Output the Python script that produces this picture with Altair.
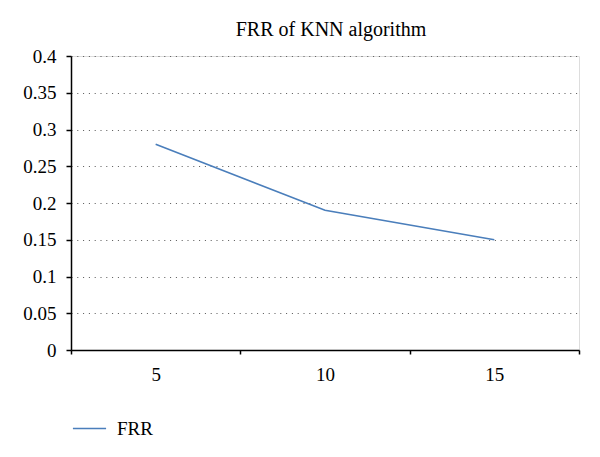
import altair as alt
import pandas as pd

k_values = ["5", "10", "15"]
frr_values = [0.28, 0.19, 0.15]
series_name = "FRR"
y_ticks = [0, 0.05, 0.1, 0.15, 0.2, 0.25, 0.3, 0.35, 0.4]

df = pd.DataFrame({"k": k_values, "frr": frr_values, "series": [series_name] * len(k_values)})

FONT = "Liberation Serif"

line = alt.Chart(df).mark_line(strokeWidth=1.6).encode(
    x=alt.X(
        "k:N",
        sort=k_values,
        title=None,
        scale=alt.Scale(paddingInner=0, paddingOuter=0),
        axis=alt.Axis(
            labelAngle=0,
            tickBand="extent",
            tickSize=4,
            tickColor="black",
            domainColor="black",
            domainWidth=1.5,
            tickWidth=1.5,
            labelPadding=11,
            labelFontSize=19,
            labelFont=FONT,
            labelColor="black",
            grid=False,
        ),
    ),
    y=alt.Y(
        "frr:Q",
        title=None,
        scale=alt.Scale(domain=[0, 0.4], nice=False),
        axis=alt.Axis(
            values=y_ticks,
            labelExpr="format(datum.value, '~g')",
            tickSize=5,
            tickColor="black",
            tickWidth=1.5,
            domainColor="black",
            domainWidth=1.5,
            labelPadding=10,
            labelFontSize=19,
            labelFont=FONT,
            labelColor="black",
            grid=True,
            gridDash=[1, 4.8],
            gridColor="#555555",
            gridWidth=1,
        ),
    ),
    color=alt.Color(
        "series:N",
        scale=alt.Scale(range=["#4a7ebb"]),
        legend=alt.Legend(
            title=None,
            orient="none",
            legendX=1,
            legendY=355,
            symbolType="stroke",
            symbolSize=1100,
            symbolStrokeWidth=1.6,
            labelFontSize=19,
            labelFont=FONT,
            labelColor="black",
            labelOffset=10,
            padding=0,
        ),
    ),
)

chart = line.properties(
    width=508,
    height=294,
    title=alt.TitleParams(
        "FRR of KNN algorithm",
        font=FONT,
        fontSize=20,
        fontWeight="normal",
        color="black",
        anchor="middle",
        dx=6,
        offset=7,
    ),
    autosize=alt.AutoSizeParams(type="none"),
    padding={"left": 63, "top": 48, "right": 13, "bottom": 99},
).configure_view(stroke=None).configure(background="white")

chart.save("out.html", embed_options={"renderer": "svg", "actions": False})
